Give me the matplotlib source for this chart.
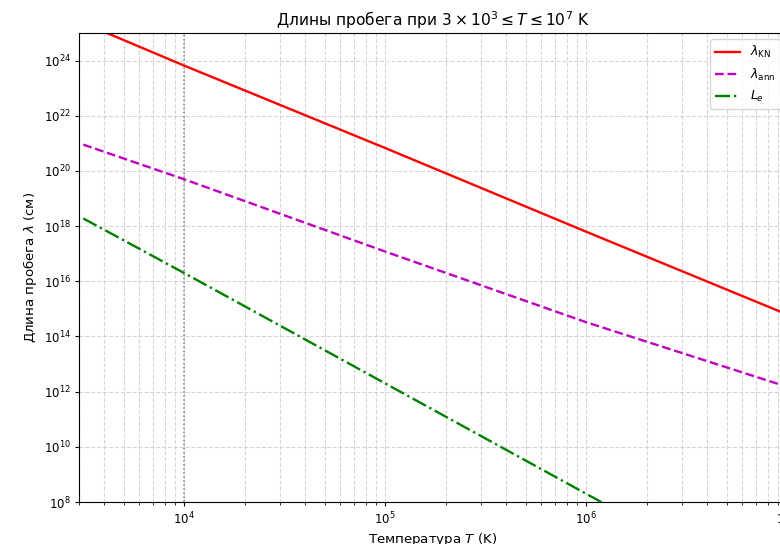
import numpy as np
import matplotlib
matplotlib.use("Agg")
import matplotlib.pyplot as plt

# temperature points (K) and the three lengths (cm)
T = [3.15e3, 1e4, 1e5, 1e6, 1e7]
lam_kn = [2.3e25, 6.6e23, 6.8e20, 6.3e17, 6.3e14]
lam_ann = [9.0e20, 5.0e19, 1.2e17, 3.3e14, 1.5e12]
L_e = [1.9e18, 2.0e16, 2.0e12, 2.0e8, 2.0e4]

fig = plt.figure(figsize=(7.8, 5.44), dpi=100)
ax = fig.add_axes([79 / 780, 1 - 502 / 544, (787 - 79) / 780, (502 - 33) / 544])

ax.loglog(T, lam_kn, color="red", lw=1.7, label=r"$\lambda_{\rm KN}$")
ax.loglog(T, lam_ann, color="m", ls="--", lw=1.7, label=r"$\lambda_{\rm ann}$")
ax.loglog(T, L_e, color="green", ls="-.", lw=1.7, label=r"$L_e$")
ax.axvline(1e4, color="gray", ls=":", lw=1.1)

ax.set_xlim(3e3, 1e7)
ax.set_ylim(1e8, 1e25)
ax.set_title(r"Длины пробега при $3 \times 10^3 \leq T \leq 10^7$ K", fontsize=11.2, pad=5)
ax.set_xlabel(r"Температура $T$ (K)", fontsize=9.6, labelpad=3)
ax.set_ylabel(r"Длина пробега $\lambda$ (см)", fontsize=9.6, labelpad=3)
ax.tick_params(which="both", labelsize=8.5)
ax.tick_params(which="major", length=3, pad=3)
ax.tick_params(which="minor", length=2)
ax.grid(True, which="both", ls="--", color="#cccccc", alpha=0.8)
ax.legend(loc="upper right", fontsize=9)

fig.savefig("out.png", dpi=100)
